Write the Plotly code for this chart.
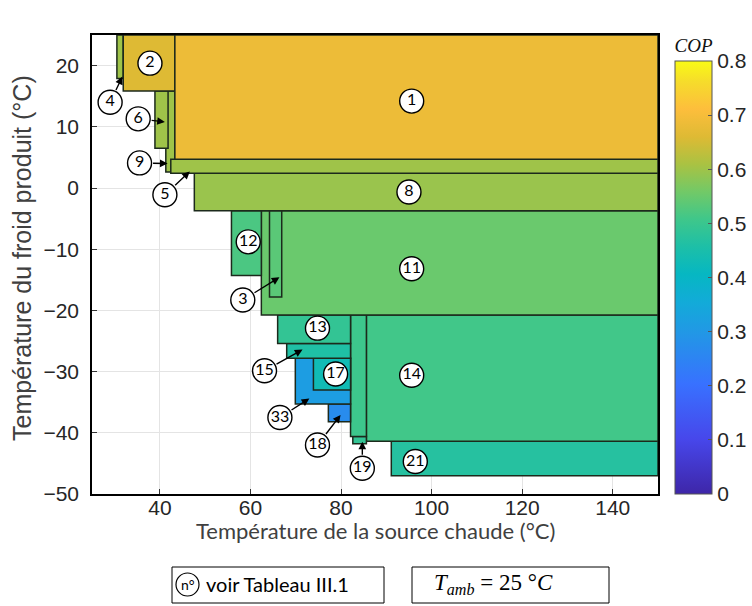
import plotly.graph_objects as go
from plotly.colors import sample_colorscale

# ---------------- data ----------------
# rectangles: hot-source temperature range (x) and cold production temperature range (y)
rect_ids = ["21", "14", "19", "", "18", "33", "17", "15", "13", "11", "3", "12",
            "8", "9", "5", "6", "4", "2", "1"]
tg_min = [91.1, 85.6, 82.6, 82.1, 77.2, 69.9, 73.9, 68.0, 66.0, 62.4, 64.2, 55.8,
          47.6, 41.3, 42.4, 38.9, 30.5, 31.9, 43.3]
tg_max = [150, 150, 85.6, 85.6, 82.1, 82.1, 82.1, 82.1, 82.1, 150, 66.9, 62.4,
          150, 43.3, 150, 41.8, 31.9, 43.3, 150]
te_min = [-47.0, -41.4, -41.8, -40.6, -38.2, -35.3, -33.0, -27.8, -25.4, -20.75, -17.8, -14.3,
          -3.7, 2.6, 2.4, 6.5, 17.9, 15.85, 4.7]
te_max = [-41.4, -20.75, -40.6, -20.75, -35.3, -27.8, -27.8, -25.4, -20.75, -3.7, -3.7, -3.7,
          2.4, 15.85, 4.7, 15.85, 25, 25, 25]
cop = [0.47, 0.51, 0.49, 0.505, 0.27, 0.315, 0.43, 0.46, 0.49, 0.55, 0.535, 0.52,
       0.595, 0.60, 0.60, 0.60, 0.60, 0.66, 0.685]

# circled labels: centre, optional arrow tip
lab_ids = ["1", "2", "4", "6", "9", "5", "8", "12", "3", "11", "13", "15", "17",
           "33", "18", "19", "14", "21"]
lab_x = [95.6, 37.8, 29.0, 35.2, 35.5, 41.1, 95.0, 59.5, 58.3, 95.6, 74.8, 63.1, 78.8,
         66.5, 74.8, 84.7, 95.6, 96.4]
lab_y = [14.2, 20.4, 14.0, 11.3, 4.1, -1.1, -0.65, -8.8, -18.3, -13.2, -22.9, -29.85, -30.4,
         -37.5, -42.0, -45.8, -30.6, -44.7]
tip_x = [None, None, 31.7, 41.1, 41.7, 46.6, None, None, 66.4, None, None, 71.5, None,
         73.0, 79.9, 84.7, None, None]
tip_y = [None, None, 18.2, 10.8, 4.0, 2.7, None, None, -14.6, None, None, -26.4, None,
         -34.4, -37.1, -41.45, None, None]

cb_ticks = [0, 0.1, 0.2, 0.3, 0.4, 0.5, 0.6, 0.7, 0.8]
cb_labels = ["0", "0.1", "0.2", "0.3", "0.4", "0.5", "0.6", "0.7", "0.8"]
x_ticks = [40, 60, 80, 100, 120, 140]
y_ticks = [-50, -40, -30, -20, -10, 0, 10, 20]
COP_MAX = 0.8

parula = [
    [0.000, "rgb(62,38,168)"],
    [0.127, "rgb(71,71,235)"],
    [0.254, "rgb(56,113,255)"],
    [0.381, "rgb(32,154,228)"],
    [0.444, "rgb(18,171,216)"],
    [0.508, "rgb(6,183,194)"],
    [0.571, "rgb(29,191,167)"],
    [0.635, "rgb(63,199,138)"],
    [0.698, "rgb(114,201,103)"],
    [0.762, "rgb(170,194,66)"],
    [0.825, "rgb(222,186,52)"],
    [0.889, "rgb(253,190,60)"],
    [0.952, "rgb(246,220,43)"],
    [1.000, "rgb(249,251,21)"],
]

# pixel helpers for paper-placed decorations (plot area: x 92..658, y 35..494)
L, R, T, B = 92, 658, 35, 494
def px(x):
    return (x - L) / (R - L)
def py(y):
    return (B - y) / (B - T)

# ---------------- figure ----------------
fig = go.Figure()

colors = sample_colorscale(parula, [c / COP_MAX for c in cop])
for i in range(len(rect_ids)):
    fig.add_shape(type="rect", xref="x", yref="y",
                  x0=tg_min[i], x1=tg_max[i], y0=te_min[i], y1=te_max[i],
                  fillcolor=colors[i],
                  line=dict(color="#1c2a1c", width=1.5), layer="between")

# colourbar holder
fig.add_trace(go.Scatter(
    x=[None], y=[None], mode="markers", showlegend=False, hoverinfo="skip",
    marker=dict(color=[0], colorscale=parula, cmin=0, cmax=COP_MAX, showscale=True,
                colorbar=dict(
                    x=px(675), xanchor="left", xpad=0, y=0.5, yanchor="middle", ypad=0,
                    len=1.0, lenmode="fraction", thickness=37,
                    outlinecolor="#555555", outlinewidth=1,
                    tickvals=cb_ticks, ticktext=cb_labels,
                    ticks="inside", ticklen=4, tickcolor="#555555",
                    tickfont=dict(family="Liberation Sans, Arial", size=21, color="#262626"),
                    title=dict(text="<i>COP</i>", side="top",
                               font=dict(family="Liberation Serif, serif", size=19, color="#111111")),
                ))))

# label circles
fig.add_trace(go.Scatter(
    x=lab_x, y=lab_y, mode="markers+text", text=lab_ids, showlegend=False,
    hoverinfo="skip", textposition="middle center",
    marker=dict(size=24, color="white", line=dict(color="black", width=1.4)),
    textfont=dict(family="Lato, Carlito, sans-serif", size=16, color="black")))

# arrows
for i in range(len(lab_ids)):
    if tip_x[i] is None:
        continue
    fig.add_annotation(x=tip_x[i], y=tip_y[i], ax=lab_x[i], ay=lab_y[i],
                       xref="x", yref="y", axref="x", ayref="y", text="",
                       showarrow=True, arrowhead=2, arrowsize=1.1, arrowwidth=1.4,
                       arrowcolor="black", startstandoff=12, standoff=0)

# axis titles
fig.add_annotation(x=0.5, y=py(530), xref="paper", yref="paper", showarrow=False,
                   text="Température de la source chaude (°C)", xanchor="center", yanchor="middle",
                   font=dict(family="Lato, Carlito, sans-serif", size=22, color="#404040"))
fig.add_annotation(x=px(22), y=py(258), xref="paper", yref="paper", showarrow=False,
                   text="Température du froid produit (°C)", textangle=-90,
                   xanchor="center", yanchor="middle",
                   font=dict(family="Liberation Sans, Arial", size=25, color="#404040"))

# bottom boxes
fig.add_shape(type="rect", xref="paper", yref="paper", x0=px(172), x1=px(384),
              y0=py(603), y1=py(567), line=dict(color="black", width=1), fillcolor="white")
fig.add_shape(type="rect", xref="paper", yref="paper", x0=px(412), x1=px(609),
              y0=py(603), y1=py(567), line=dict(color="black", width=1), fillcolor="white")
fig.add_shape(type="circle", xref="paper", yref="paper",
              x0=px(176), x1=px(199), y0=py(596), y1=py(573),
              line=dict(color="black", width=1.2))
fig.add_annotation(x=px(188), y=py(584), xref="paper", yref="paper",
                   showarrow=False, text="n°", xanchor="center", yanchor="middle",
                   font=dict(family="Lato, Carlito, sans-serif", size=14, color="black"))
fig.add_annotation(x=px(204), y=py(584), xref="paper", yref="paper",
                   showarrow=False, text="voir Tableau III.1", xanchor="left", yanchor="middle",
                   font=dict(family="Lato, Carlito, sans-serif", size=20, color="black"))
fig.add_annotation(x=px(493), y=py(584), xref="paper", yref="paper",
                   showarrow=False, text="<i>T</i><sub><i>amb</i></sub> = 25 °<i>C</i>",
                   xanchor="center", yanchor="middle",
                   font=dict(family="Liberation Serif, serif", size=23, color="black"))

axis_common = dict(showline=True, linecolor="black", linewidth=1.5, mirror=True,
                   ticks="inside", ticklen=5, tickcolor="#333333",
                   showgrid=True, gridcolor="#e4e4e4", gridwidth=1, zeroline=False,
                   tickfont=dict(family="Liberation Sans, Arial", size=21, color="#262626"))

fig.update_xaxes(range=[25, 150], tickvals=x_ticks, ticklabelstandoff=-6, **axis_common)
fig.update_yaxes(range=[-50, 25], tickvals=y_ticks, ticklabelstandoff=7, **axis_common)

fig.update_layout(width=752, height=606,
                  margin=dict(l=L, r=752 - R, t=T, b=606 - B, autoexpand=False),
                  plot_bgcolor="white", paper_bgcolor="white", showlegend=False)

fig.write_html("out.html", config={"displayModeBar": False},
               post_script="document.body.style.margin='0';document.body.style.overflow='hidden';")
